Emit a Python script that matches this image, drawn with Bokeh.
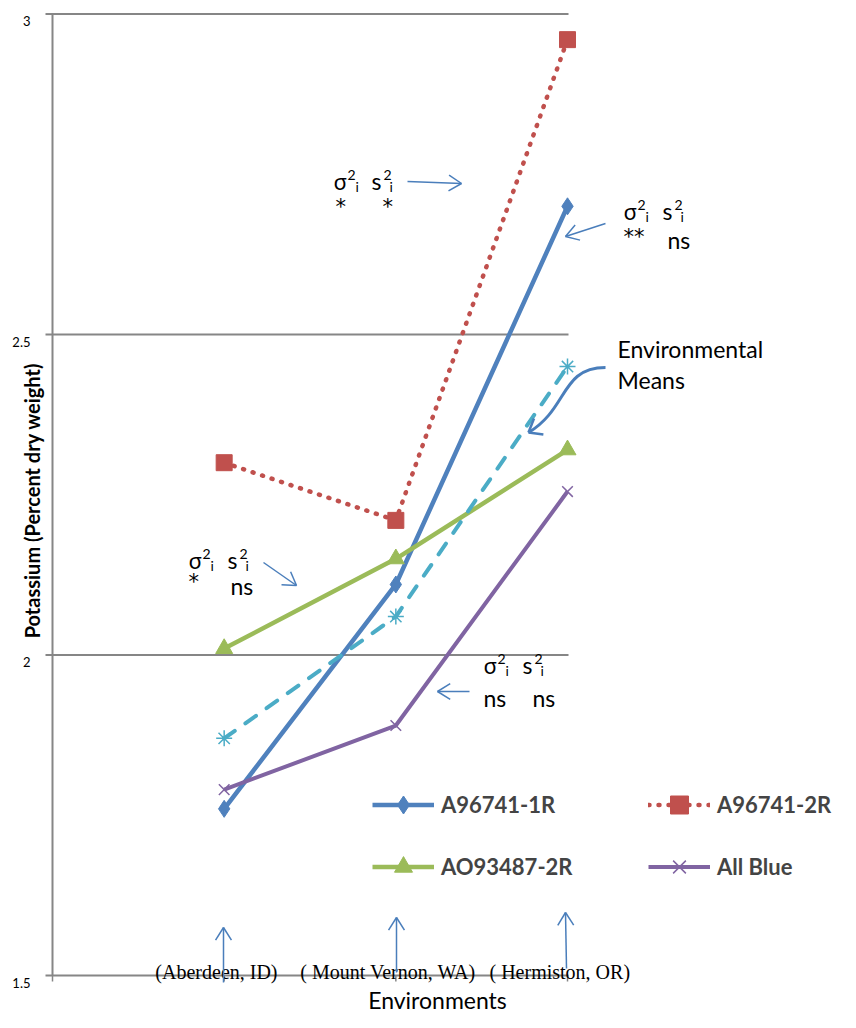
import math
from bokeh.plotting import figure
from bokeh.models import Range1d, Legend, LegendItem
from bokeh.core.properties import value
from bokeh.embed import file_html
from bokeh.resources import INLINE

# ---------------- data ----------------
environments = ["(Aberdeen, ID)", "( Mount Vernon, WA)", "( Hermiston, OR)"]
env_x = [1, 2, 3]
a96741_1r = [1.76, 2.11, 2.70]
a96741_2r = [2.30, 2.21, 2.96]
ao93487_2r = [2.01, 2.15, 2.32]
all_blue = [1.79, 1.89, 2.255]
env_means = [1.87, 2.06, 2.45]
y_ticks = [1.5, 2.0, 2.5, 3.0]
y_tick_labels = ["1.5", "2", "2.5", "3"]
x_title = "Environments"
y_title = "Potassium (Percent dry weight)"

# ---------------- layout ----------------
W, H = 840, 1012
X0, XU = 52.0, 171.67      # canvas x of data 0, px per unit
Y3, YU = 13.5, 641.0       # canvas y of data 3, px per unit
x_start, x_end = -X0 / XU, (W - X0) / XU
y_end = 3 + Y3 / YU
y_start = y_end - H / YU


def px(v):
    return (v - X0) / XU


def py(v):
    return y_end - v / YU


BLUE, RED, GREEN, PURPLE, CYAN = "#4f81bd", "#c0504d", "#9bbb59", "#8064a2", "#4bacc6"
ARROW, GRAY = "#4a7ebb", "#868686"
SANS = value("Lato")

p = figure(width=W, height=H, x_range=Range1d(x_start, x_end), y_range=Range1d(y_start, y_end),
           output_backend="svg", toolbar_location=None, x_axis_type=None, y_axis_type=None,
           min_border=0, outline_line_color=None)
p.background_fill_color = "white"
p.border_fill_color = "white"

# gridlines / axes
p.segment(x0=px(45), y0=y_ticks, x1=px(568), y1=y_ticks, line_color=GRAY, line_width=2)
p.segment(x0=0, y0=y_ticks[0], x1=0, y1=y_ticks[-1], line_color=GRAY, line_width=2)
p.segment(x0=[0] + env_x, y0=y_ticks[0], x1=[0] + env_x, y1=py(981), line_color=GRAY, line_width=1.5)
p.text(x=px(30), y=[t - 7 / YU for t in y_ticks], text=y_tick_labels, text_align="right",
       text_baseline="middle", text_font=SANS, text_font_size="13px", text_color="#000000")
p.text(x=px(31), y=py(500), text=[y_title], angle=math.pi / 2, text_align="center",
       text_baseline="middle", text_font=SANS, text_font_size="20px", text_font_style="bold",
       text_color="#000000")
p.text(x=[v - 0.045 for v in env_x], y=py(971), text=environments, text_align="center",
       text_baseline="middle", text_font=value("Liberation Serif"), text_font_size="20px",
       text_color="#000000")
p.text(x=px(437), y=py(999), text=[x_title], text_align="center", text_baseline="middle",
       text_font=SANS, text_font_size="23px", text_color="#000000")

# series
r1l = p.line(env_x, a96741_1r, line_color=BLUE, line_width=4.5)
r1m = p.scatter(env_x, a96741_1r, marker="diamond", size=17, fill_color=BLUE, line_color=BLUE)
r2l = p.line(env_x, a96741_2r, line_color=RED, line_width=4.5, line_dash="1 9", line_cap="round")
r2m = p.scatter(env_x, a96741_2r, marker="square", size=16, fill_color=RED, line_color=RED)
r3l = p.line(env_x, ao93487_2r, line_color=GREEN, line_width=4.5)
r3m = p.scatter(env_x, ao93487_2r, marker="triangle", size=17, fill_color=GREEN, line_color=GREEN)
r4l = p.line(env_x, all_blue, line_color=PURPLE, line_width=4)
r4m = p.scatter(env_x, all_blue, marker="x", size=15, line_color=PURPLE, line_width=1.5)
r5l = p.line(env_x, env_means, line_color=CYAN, line_width=4, line_dash="13 13", line_cap="round")
r5m = p.scatter(env_x, env_means, marker="asterisk", size=16, line_color=CYAN, line_width=1.5)

# arrows (page coordinates: tail -> tip)
arrows = [((407, 181), (461, 183)), ((605, 223), (565, 236)), ((263, 562), (296, 585)),
          ((469, 691), (437, 691)), ((223, 982), (223, 927)), ((396, 972), (396, 917)),
          ((566, 968), (565, 912))]
sx0, sy0, sx1, sy1 = [], [], [], []


def add_head(tip, frm, L=15, ang=32):
    dx, dy = frm[0] - tip[0], frm[1] - tip[1]
    n = math.hypot(dx, dy)
    dx, dy = dx / n, dy / n
    for s in (-1, 1):
        a = math.radians(ang) * s
        hx = tip[0] + L * (dx * math.cos(a) - dy * math.sin(a))
        hy = tip[1] + L * (dx * math.sin(a) + dy * math.cos(a))
        sx0.append(px(tip[0])); sy0.append(py(tip[1])); sx1.append(px(hx)); sy1.append(py(hy))


for tail, tip in arrows:
    sx0.append(px(tail[0])); sy0.append(py(tail[1])); sx1.append(px(tip[0])); sy1.append(py(tip[1]))
    add_head(tip, tail)
p.segment(x0=sx0, y0=sy0, x1=sx1, y1=sy1, line_color=ARROW, line_width=1.5)

# curved arrow to environmental means
p.bezier(x0=px(605), y0=py(367), x1=px(528), y1=py(432), cx0=px(560), cy0=py(367),
         cx1=px(568), cy1=py(408), line_color=ARROW, line_width=3)
sx0, sy0, sx1, sy1 = [], [], [], []
add_head((528, 432), (545, 422), L=15, ang=38)
p.segment(x0=sx0, y0=sy0, x1=sx1, y1=sy1, line_color=ARROW, line_width=2.5)
p.text(x=px(617), y=[py(348), py(379)], text=["Environmental", "Means"], text_align="left",
       text_baseline="middle", text_font=SANS, text_font_size="23px", text_color="#000000")

# variance annotations (left edge of sigma, vertical centre of the first row)
annots = [
    dict(sig=(333, 180), s=371, line2=[("*", 335, 206), ("*", 382, 206)]),
    dict(sig=(623, 210), s=662, line2=[("**", 623, 236), ("ns", 667, 239)]),
    dict(sig=(188, 559), s=227, line2=[("*", 188, 581), ("ns", 230, 585)]),
    dict(sig=(483, 664), s=522, line2=[("ns", 483, 697), ("ns", 532, 697)]),
]
sig_x, sig_y = [], []
big_t, big_x, big_y = [], [], []
ast_t, ast_x, ast_y = [], [], []
sm_t, sm_x, sm_y = [], [], []
for a in annots:
    gx, gy = a["sig"]
    sig_x.append(px(gx)); sig_y.append(py(gy))
    big_t.append("s"); big_x.append(px(a["s"])); big_y.append(py(gy))
    for t, lx, ly in a["line2"]:
        if "*" in t:
            ast_t.append(t); ast_x.append(px(lx)); ast_y.append(py(ly))
        else:
            big_t.append(t); big_x.append(px(lx)); big_y.append(py(ly))
    for bx, sup_dx, sub_dx in ((gx, 14, 22), (a["s"], 12, 18)):
        sm_t += ["2", "i"]
        sm_x += [px(bx + sup_dx), px(bx + sub_dx)]
        sm_y += [py(gy - 6), py(gy + 6)]
p.text(x=sig_x, y=sig_y, text=["σ"] * len(sig_x), text_align="left", text_baseline="middle",
       text_font=value("Noto Sans"), text_font_size="22px", text_color="#000000")
p.text(x=big_x, y=big_y, text=big_t, text_align="left", text_baseline="middle",
       text_font=SANS, text_font_size="23px", text_color="#000000")
p.text(x=ast_x, y=ast_y, text=ast_t, text_align="left", text_baseline="middle",
       text_font=value("DejaVu Sans"), text_font_size="21px", text_color="#000000")
p.text(x=sm_x, y=sm_y, text=sm_t, text_align="left", text_baseline="middle",
       text_font=SANS, text_font_size="14px", text_color="#000000")

legend = Legend(items=[LegendItem(label="A96741-1R", renderers=[r1l, r1m]),
                       LegendItem(label="AO93487-2R", renderers=[r3l, r3m]),
                       LegendItem(label="A96741-2R", renderers=[r2l, r2m]),
                       LegendItem(label="All Blue", renderers=[r4l, r4m])],
                ncols=2, location=(372, 123), padding=0, margin=0, spacing=17,
                glyph_width=62, glyph_height=45, label_height=45, label_width=190,
                label_standoff=7, label_text_font="Lato", label_text_font_style="bold",
                label_text_font_size="22px",
                background_fill_alpha=0, border_line_color=None)
p.add_layout(legend)

open("out.html", "w").write(file_html(p, INLINE))
